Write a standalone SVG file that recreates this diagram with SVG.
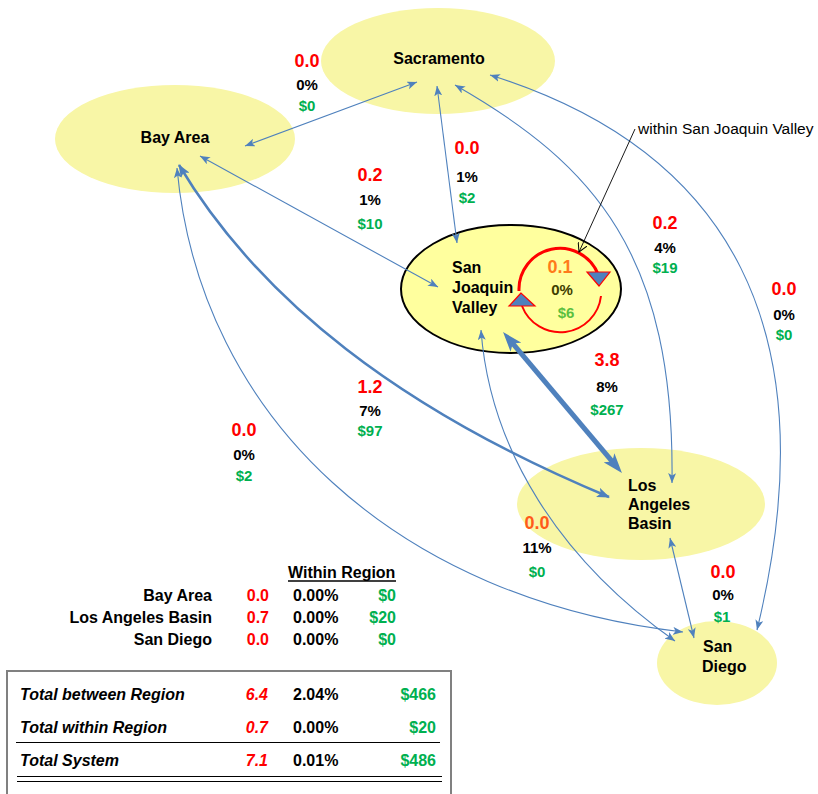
<svg xmlns="http://www.w3.org/2000/svg" width="818" height="794" viewBox="0 0 818 794">
<style>
text{font-family:"Liberation Sans",Arial,sans-serif;font-weight:bold}
.node{fill:#F8F6A6}
.nl{font-size:16px;fill:#000}
.r{font-size:18px;fill:#FF0000;text-anchor:middle}
.p{font-size:15px;fill:#000;text-anchor:middle}
.g{font-size:15px;fill:#00B050;text-anchor:middle}
.c{fill:none;stroke:#4F81BD;stroke-width:1.1}
.t{font-size:16px}
.end{text-anchor:end}
.it{font-style:italic}
</style>
<defs>
<marker id="a" viewBox="0 0 10 8" refX="10" refY="4" markerWidth="10" markerHeight="8" markerUnits="userSpaceOnUse" orient="auto-start-reverse">
<path d="M0,0 L10,4 L0,8 L2.5,4 z" fill="#4F81BD"/>
</marker>
<marker id="am" viewBox="0 0 13 10" refX="12" refY="5" markerWidth="13" markerHeight="10" markerUnits="userSpaceOnUse" orient="auto-start-reverse">
<path d="M0,0 L13,5 L0,10 L3,5 z" fill="#4F81BD"/>
</marker>
<marker id="ab" viewBox="0 0 20 14" refX="10" refY="7" markerWidth="20" markerHeight="14" markerUnits="userSpaceOnUse" orient="auto-start-reverse">
<path d="M0,0 L20,7 L0,14 L5,7 z" fill="#4F81BD"/>
</marker>
<marker id="ak" viewBox="0 0 10 10" refX="9" refY="5" markerWidth="10" markerHeight="10" markerUnits="userSpaceOnUse" orient="auto">
<path d="M0,0 L9,5 L0,10" fill="none" stroke="#000" stroke-width="1"/>
</marker>
</defs>
<rect width="818" height="794" fill="#fff"/>

<g id="sacramento">
<ellipse class="node" cx="438" cy="61" rx="117" ry="53"/>
<text class="nl" x="439" y="64" text-anchor="middle">Sacramento</text>
</g>
<g id="bay-area">
<ellipse class="node" cx="175" cy="139" rx="120" ry="54"/>
<text class="nl" x="175" y="143" text-anchor="middle">Bay Area</text>
</g>
<g id="los-angeles-basin">
<ellipse class="node" cx="641" cy="504" rx="124" ry="56"/>
<text class="nl" x="628" y="491">Los</text>
<text class="nl" x="628" y="510">Angeles</text>
<text class="nl" x="628" y="529">Basin</text>
</g>
<g id="san-diego">
<ellipse class="node" cx="717" cy="663" rx="60" ry="42"/>
<text class="nl" x="703" y="652">San</text>
<text class="nl" x="702" y="672">Diego</text>
</g>
<g id="san-joaquin-valley">
<ellipse cx="511" cy="289" rx="110" ry="64" fill="#FFFF9E" stroke="#000" stroke-width="2"/>
<text class="nl" x="452" y="273">San</text>
<text class="nl" x="452" y="293">Joaquin</text>
<text class="nl" x="452" y="313">Valley</text>
<path d="M519,291 A41,41 0 0 1 598,274" fill="none" stroke="#FF0000" stroke-width="3"/>
<polygon points="587,272 610,272 599,286" fill="#4F81BD" stroke="#FF0000" stroke-width="1.2"/>
<path d="M601,296 A41,41 0 0 1 522,306" fill="none" stroke="#FF0000" stroke-width="2"/>
<polygon points="521,293 509,306 535,306" fill="#4F81BD" stroke="#FF0000" stroke-width="1.2"/>
<text x="560" y="273" style="font-size:18px;fill:#FF7A1A;text-anchor:middle">0.1</text>
<text x="562" y="295" style="font-size:15px;fill:#404000;text-anchor:middle">0%</text>
<text x="566" y="318" style="font-size:15px;fill:#5CBF3F;text-anchor:middle">$6</text>
</g>

<g id="connectors">
<path class="c" d="M245,146 L417,82" marker-start="url(#a)" marker-end="url(#a)"/>
<path class="c" d="M437,86 L457,243" marker-start="url(#a)" marker-end="url(#a)"/>
<path class="c" d="M200,156 L438,287" marker-start="url(#a)" marker-end="url(#a)"/>
<path class="c" d="M455,85 C595,165 675,255 672,483" marker-start="url(#a)" marker-end="url(#a)"/>
<path class="c" d="M490,75 C730,150 830,330 757,630" marker-start="url(#a)" marker-end="url(#a)"/>
<path class="c" d="M177,168 C200,420 400,600 683,632" marker-start="url(#a)" marker-end="url(#a)"/>
<path class="c" d="M481,330 C490,450 560,560 675,641" marker-start="url(#a)" marker-end="url(#a)"/>
<path class="c" d="M670,538 L694,638" marker-start="url(#a)" marker-end="url(#a)"/>
<path fill="none" stroke="#4F81BD" stroke-width="2.5" d="M179,165 C260,300 400,410 609,497" marker-start="url(#am)" marker-end="url(#am)"/>
<path fill="none" stroke="#4F81BD" stroke-width="5" d="M509.5,339.6 L615.5,465.4" marker-start="url(#ab)" marker-end="url(#ab)"/>
<path fill="none" stroke="#000" stroke-width="0.9" d="M635,129 L579,252" marker-end="url(#ak)"/>
</g>

<g id="labels">
<text x="638" y="134" style="font-size:15.5px;font-weight:normal;fill:#000">within San Joaquin Valley</text>
<text class="r" x="307" y="67">0.0</text><text class="p" x="307" y="90">0%</text><text class="g" x="307" y="111">$0</text>
<text class="r" x="467" y="154">0.0</text><text class="p" x="467" y="182">1%</text><text class="g" x="467" y="203">$2</text>
<text class="r" x="370" y="181">0.2</text><text class="p" x="370" y="205">1%</text><text class="g" x="370" y="229">$10</text>
<text class="r" x="607" y="366">3.8</text><text class="p" x="607" y="392">8%</text><text class="g" x="607" y="415">$267</text>
<text class="r" x="370" y="393">1.2</text><text class="p" x="370" y="416">7%</text><text class="g" x="370" y="436">$97</text>
<text class="r" x="244" y="436">0.0</text><text class="p" x="244" y="460">0%</text><text class="g" x="244" y="481">$2</text>
<text class="r" x="665" y="229">0.2</text><text class="p" x="665" y="253">4%</text><text class="g" x="665" y="273">$19</text>
<text class="r" x="784" y="295">0.0</text><text class="p" x="784" y="320">0%</text><text class="g" x="784" y="340">$0</text>
<text class="r" x="537" y="529" style="fill:#FF5A1A">0.0</text><text class="p" x="537" y="553">11%</text><text class="g" x="537" y="577">$0</text>
<text class="r" x="723" y="578">0.0</text><text class="p" x="723" y="600">0%</text><text class="g" x="722" y="622">$1</text>
</g>

<g id="table">
<text class="t" x="288" y="578">Within Region</text>
<line x1="288" y1="581" x2="396" y2="581" stroke="#000" stroke-width="1.5"/>
<text class="t end" x="212" y="601">Bay Area</text>
<text class="t end" x="269" y="601" fill="#FF0000">0.0</text>
<text class="t" x="293" y="601">0.00%</text>
<text class="t end" x="396" y="601" fill="#00B050">$0</text>
<text class="t end" x="212" y="623">Los Angeles Basin</text>
<text class="t end" x="269" y="623" fill="#FF0000">0.7</text>
<text class="t" x="293" y="623">0.00%</text>
<text class="t end" x="396" y="623" fill="#00B050">$20</text>
<text class="t end" x="212" y="645">San Diego</text>
<text class="t end" x="269" y="645" fill="#FF0000">0.0</text>
<text class="t" x="293" y="645">0.00%</text>
<text class="t end" x="396" y="645" fill="#00B050">$0</text>

<rect x="7" y="671" width="444" height="140" fill="none" stroke="#808080" stroke-width="2"/>
<text class="t it" x="20" y="700">Total between Region</text>
<text class="t it end" x="268" y="700" fill="#FF0000">6.4</text>
<text class="t" x="293" y="700">2.04%</text>
<text class="t end" x="436" y="700" fill="#00B050">$466</text>
<text class="t it" x="20" y="733">Total within Region</text>
<text class="t it end" x="268" y="733" fill="#FF0000">0.7</text>
<text class="t" x="293" y="733">0.00%</text>
<text class="t end" x="436" y="733" fill="#00B050">$20</text>
<line x1="16" y1="742.5" x2="440" y2="742.5" stroke="#000" stroke-width="1.2"/>
<text class="t it" x="20" y="766">Total System</text>
<text class="t it end" x="268" y="766" fill="#FF0000">7.1</text>
<text class="t" x="293" y="766">0.01%</text>
<text class="t end" x="436" y="766" fill="#00B050">$486</text>
<line x1="17" y1="776.5" x2="442" y2="776.5" stroke="#000" stroke-width="1.2"/>
<line x1="17" y1="781.5" x2="442" y2="781.5" stroke="#000" stroke-width="1.2"/>
</g>
</svg>
